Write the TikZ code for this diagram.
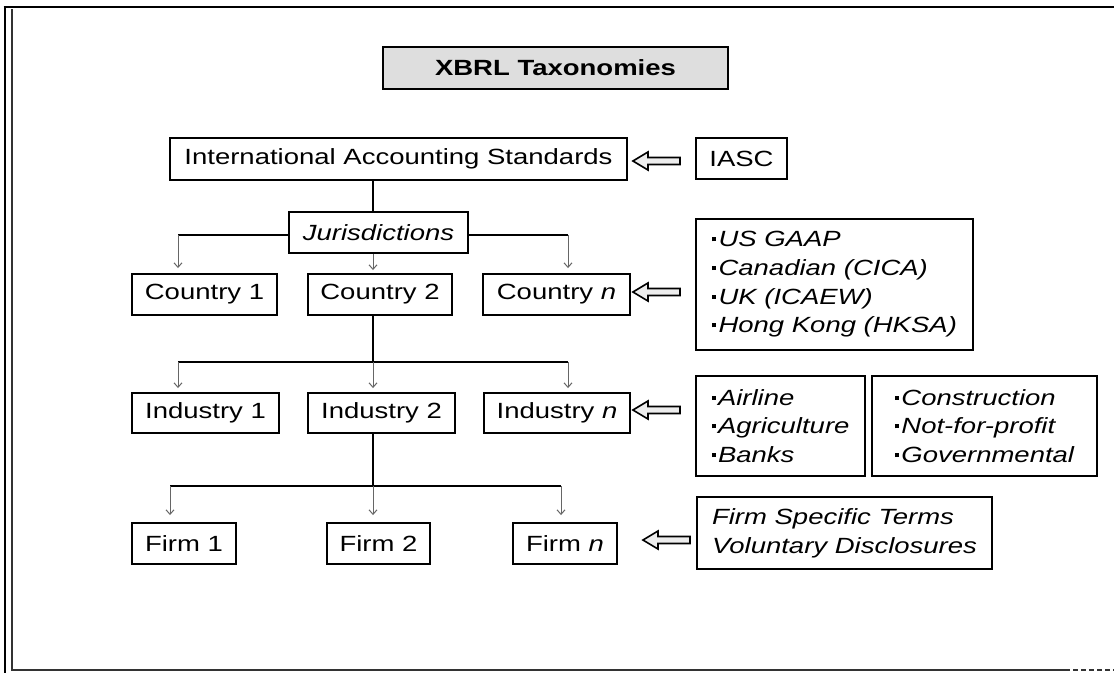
\documentclass[tikz,border=0pt]{standalone}
\usepackage{fontspec}
\setmainfont{Liberation Sans}[FakeStretch=1.25]
\usetikzlibrary{arrows.meta,calc,shadows}

% hollow block arrow pointing left, #1 = tip
\newcommand\hollowarrow[1]{%
  \draw[blockarr] #1 -- ++(15,-9) -- ++(0,5.5) -- ++(32,0) -- ++(0,7)
    -- ++(-32,0) -- ++(0,5.5) -- cycle;}
% small square list bullet
\newcommand\sqbul{\raisebox{5.5pt}{\rule{4pt}{4pt}}\hspace{2.5pt}}

\begin{document}
\begin{tikzpicture}[x=1pt,y=-1pt,
  box/.style={draw=black,line width=1.9pt,fill=white,inner sep=0pt,align=center,
    font=\fontsize{22}{29}\selectfont,
    drop shadow={shadow xshift=1.3pt,shadow yshift=-1.3pt,fill=black!60,opacity=0.5}},
  listbox/.style={box,align=left,font=\fontsize{22}{28.7}\selectfont\itshape},
  bus/.style={line width=2pt,draw=black},
  tarr/.style={draw=black!60,line width=1pt,-{Straight Barb[length=4.5pt,width=8pt]}},
  blockarr/.style={draw=black,line width=1.6pt,fill=black!7,line join=miter}]

\fill[white] (0,0) rectangle (1114,673);
\useasboundingbox (0,0) rectangle (1114,673);

% page frame
\draw[line width=2.6pt] (3.5,7) -- (1114,7);
\draw[line width=2.3pt] (5,7) -- (5,673);
\draw[line width=1.6pt,black!80] (12,9) -- (12,670) -- (1065,670);
\draw[line width=1.6pt,black!80,dash pattern=on 5pt off 3pt] (1065,670) -- (1114,670);

% title
\node[box,fill=black!13,font=\fontsize{22}{29}\selectfont\bfseries,
  minimum width=345,minimum height=42] (title) at (555.5,68) {XBRL Taxonomies};

% hierarchy
\node[box,minimum width=457,minimum height=42] (ias) at (398.5,159) {International Accounting Standards};
\node[box,minimum width=91,minimum height=41] (iasc) at (741.5,158.5) {IASC};
\node[box,minimum width=179,minimum height=41,font=\fontsize{22}{29}\selectfont\itshape] (jur) at (378.5,232.5) {Jurisdictions};

\node[box,minimum width=145,minimum height=41] (c1) at (204.5,294.5) {Country 1};
\node[box,minimum width=144,minimum height=41] (c2) at (380,294.5) {Country 2};
\node[box,minimum width=147,minimum height=41] (cn) at (556.5,294.5) {Country \textit{n}};

\node[box,minimum width=147,minimum height=40] (i1) at (205.5,413) {Industry 1};
\node[box,minimum width=147,minimum height=40] (i2) at (381.5,413) {Industry 2};
\node[box,minimum width=146,minimum height=40] (in) at (557,413) {Industry \textit{n}};

\node[box,minimum width=104,minimum height=41] (f1) at (184,543.5) {Firm 1};
\node[box,minimum width=103,minimum height=41] (f2) at (378.5,543.5) {Firm 2};
\node[box,minimum width=104,minimum height=41] (fn) at (565,543.5) {Firm \textit{n}};

% source lists
\node[listbox,minimum width=277,minimum height=131] (gaap) at (834.5,284.5)
  {\sqbul US GAAP\\\sqbul Canadian (CICA)\\\sqbul UK (ICAEW)\\\sqbul Hong Kong (HKSA)};
\node[listbox,minimum width=169,minimum height=100] (indA) at (780.5,426)
  {\sqbul Airline\\\sqbul Agriculture\\\sqbul Banks};
\node[listbox,minimum width=225,minimum height=100] (indB) at (984.5,426)
  {\sqbul Construction\\\sqbul Not-for-profit\\\sqbul Governmental};
\node[listbox,minimum width=295,minimum height=72] (firmx) at (844.5,533)
  {Firm Specific Terms\\Voluntary Disclosures};

% trunk and branch points
\coordinate (trunk) at (373,0);
\coordinate (jl) at (178,235);
\coordinate (jr) at (568,235);
\coordinate (cil) at (178,362);
\coordinate (cir) at (568,362);
\coordinate (ifl) at (170,486);
\coordinate (ifr) at (561,486);

% IAS -> jurisdictions
\draw[bus] (ias.south -| trunk) -- (jur.north -| trunk);
\draw[bus] (jur.west |- jl) -- (jl);
\draw[bus] (jur.east |- jr) -- (jr);
\draw[tarr,shorten >=5pt] (jl) -- (jl |- c1.north);
\draw[tarr,shorten >=3pt] (jur.south -| trunk) -- (c2.north -| trunk);
\draw[tarr,shorten >=5pt] (jr) -- (jr |- cn.north);

% country -> industries
\draw[bus] (c2.south -| trunk) -- (trunk |- cil);
\draw[bus] (cil) -- (cir);
\draw[tarr,shorten >=4pt] (cil) -- (cil |- i1.north);
\draw[tarr,shorten >=4pt] (trunk |- cil) -- (i2.north -| trunk);
\draw[tarr,shorten >=4pt] (cir) -- (cir |- in.north);

% industry -> firms
\draw[bus] (i2.south -| trunk) -- (trunk |- ifl);
\draw[bus] (ifl) -- (ifr);
\draw[tarr,shorten >=7pt] (ifl) -- (ifl |- f1.north);
\draw[tarr,shorten >=7pt] (trunk |- ifl) -- (f2.north -| trunk);
\draw[tarr,shorten >=7pt] (ifr) -- (ifr |- fn.north);

% source arrows
\coordinate (tA) at ($(ias.east)+(5,2)$);
\coordinate (tB) at ($(cn.east)+(2,-2.5)$);
\coordinate (tC) at ($(in.east)+(2,-3)$);
\coordinate (tD) at ($(fn.east)+(25,-3.5)$);
\hollowarrow{(tA)}
\hollowarrow{(tB)}
\hollowarrow{(tC)}
\hollowarrow{(tD)}

\end{tikzpicture}
\end{document}
